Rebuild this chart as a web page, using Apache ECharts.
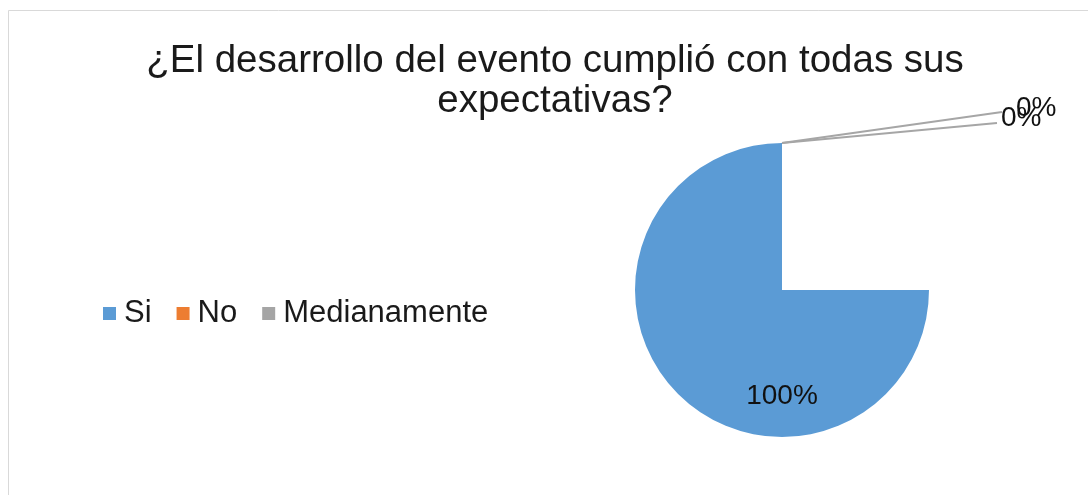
<!DOCTYPE html>
<html>
<head>
<meta charset="utf-8">
<script src="https://cdn.jsdelivr.net/npm/echarts@6/dist/echarts.min.js"></script>
<style>
  html, body { margin: 0; padding: 0; background: #fff; }
  #chart { width: 1088px; height: 495px; }
</style>
</head>
<body>
<div id="chart"></div>
<script>
// Survey answers and their shares (percent)
const categories = ['Si', 'No', 'Medianamente'];
const shares = [100, 0, 0];
const sliceColors = ['#5B9BD5', '#ED7D31', '#A5A5A5'];
const titleText = '¿El desarrollo del evento cumplió con todas sus\nexpectativas?';

const FONT = '"Liberation Sans", Arial, sans-serif';

const chart = echarts.init(document.getElementById('chart'), null, { renderer: 'canvas' });

const pieData = categories.map((name, i) => ({
  name: name,
  value: shares[i],
  itemStyle: { color: sliceColors[i] },
  labelLine: { show: i !== 0 }
}));

chart.setOption({
  animation: false,
  backgroundColor: '#ffffff',
  textStyle: { fontFamily: FONT },
  graphic: [{
    type: 'rect',
    silent: true,
    shape: { x: 8.5, y: 10.5, width: 1100, height: 500 },
    style: { fill: 'none', stroke: '#d9d9d9', lineWidth: 1 }
  }],
  title: {
    text: titleText,
    left: 550,
    top: 36,
    textAlign: 'center',
    textStyle: {
      fontFamily: FONT,
      fontSize: 38.5,
      fontWeight: 'normal',
      lineHeight: 40,
      color: '#1a1a1a'
    }
  },
  legend: {
    data: categories,
    orient: 'horizontal',
    left: 103,
    top: 298,
    padding: 0,
    icon: 'rect',
    itemWidth: 13,
    itemHeight: 13,
    itemGap: 25,
    selectedMode: false,
    textStyle: {
      fontFamily: FONT,
      fontSize: 31,
      color: '#1a1a1a',
      padding: [0, 0, 0, 3]
    }
  },
  series: [{
    type: 'pie',
    center: [782, 290],
    radius: 147,
    startAngle: 0,
    endAngle: -270,
    clockwise: true,
    avoidLabelOverlap: false,
    silent: true,
    data: pieData,
    label: {
      show: true,
      position: 'outside',
      formatter: '{d}%',
      fontFamily: FONT,
      fontSize: 28,
      color: '#111111'
    },
    labelLine: {
      show: true,
      length: 20,
      length2: 20,
      lineStyle: { color: '#a6a6a6', width: 2 }
    },
    labelLayout: function (p) {
      const r = p.rect;
      if (p.dataIndex === 0) {
        // percentage of the main slice sits low inside the disc
        return {
          x: r.x + r.width / 2,
          y: r.y + r.height * 0.862,
          align: 'center',
          verticalAlign: 'middle'
        };
      }
      // zero-share slices: labels pulled out to the upper right,
      // each joined to the slice edge by one straight leader
      const off = p.dataIndex === 1
        ? { dx: 219, dy: -25, ex: 215, ey: -20 }
        : { dx: 234, dy: -35, ex: 220, ey: -31 };
      const start = p.labelLinePoints ? p.labelLinePoints[0] : [r.x, r.y];
      const end = [r.x + off.ex, r.y + off.ey];
      return {
        x: r.x + off.dx,
        y: r.y + off.dy,
        align: 'left',
        verticalAlign: 'middle',
        labelLinePoints: [start, [(start[0] + end[0]) / 2, (start[1] + end[1]) / 2], end]
      };
    }
  }]
});
</script>
</body>
</html>
